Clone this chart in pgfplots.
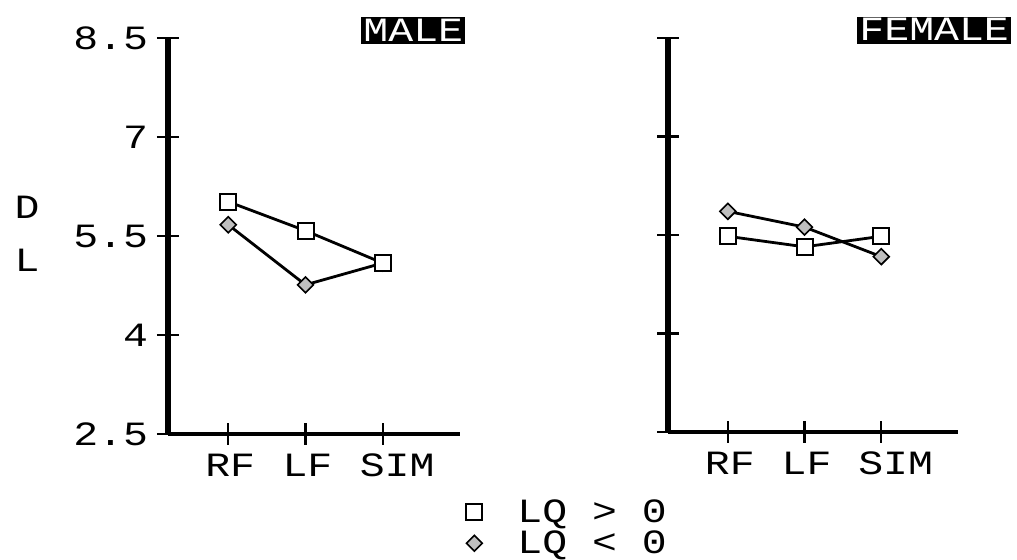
\documentclass[border=0pt]{standalone}
\usepackage{fontspec}
\setmainfont{Liberation Mono}[FakeStretch=1.22]
\setmonofont{Liberation Mono}[FakeStretch=1.22]
\usepackage{pgfplots}
\pgfplotsset{compat=1.18}
\newcommand{\pf}{\fontsize{17}{20}\selectfont}
\pgfplotsset{
  panel/.style={
    scale only axis,
    axis x line=bottom, axis y line=left,
    axis line style={-},
    x axis line style={line width=1.8pt},
    y axis line style={line width=3pt},
    xmin=0.22, xmax=4.0, ymin=2.5, ymax=8.5,
    xtick={1,2,3}, xticklabels={RF,LF,SIM},
    ytick={2.5,4,5.5,7,8.5},
    tick align=center,
    major tick length=11pt,
    tick style={line width=1.2pt, black},
    tick label style={font=\pf},
    xticklabel style={anchor=north west, xshift=-15pt, yshift=-1pt},
    clip=false,
  },
  sq/.style={black, line width=1.4pt, mark=square*, mark size=4pt,
    mark options={line width=1pt, fill=white, solid}},
  dm/.style={black, line width=1.4pt, mark=square*, mark size=2.8pt,
    mark options={line width=0.8pt, fill=gray!50, solid, rotate=45}},
}
\tikzset{ttl/.style={fill=black, text=white, font=\pf, inner xsep=1pt, inner ysep=1.5pt, text height=10.5pt, text depth=0pt}}
\begin{document}
\begin{tikzpicture}
\path[use as bounding box] (0,0) rectangle (508.5pt,-280pt);
% MALE
\begin{axis}[panel,
  at={(84pt,-217pt)}, anchor=south west, width=146pt, height=198pt,
  yticklabels={2.5,4,5.5,7,8.5},
  yticklabel style={xshift=-1pt},
  legend cell align=left,
  legend style={at={(rel axis cs:1.0,-0.155)}, anchor=north west, font=\pf, draw=none, fill=none,
    row sep=3pt,
    nodes={inner sep=1pt, text height=10.5pt, text depth=0pt}},
]
\addlegendimage{only marks, mark=square*, mark size=4pt, mark options={line width=1pt, fill=white}}
\addlegendentry{\hspace{16.5pt}LQ > 0}
\addlegendimage{only marks, mark=square*, mark size=2.8pt, mark options={line width=0.8pt, fill=gray!50, rotate=45}}
\addlegendentry{\hspace{16.5pt}LQ < 0}
\addplot[dm, forget plot] coordinates {(1,5.67) (2,4.76) (3,5.09)};
\addplot[sq, forget plot] coordinates {(1,6.02) (2,5.58) (3,5.09)};
\node[ttl] at (rel axis cs:0.84,1.018) {MALE};
\node[font=\pf] at (rel axis cs:-0.483,0.573) {D};
\node[font=\pf] at (rel axis cs:-0.483,0.439) {L};
\end{axis}
% FEMALE
\begin{axis}[panel,
  at={(334pt,-216pt)}, anchor=south west, width=145pt, height=197pt,
  yticklabels={},
]
\addplot[sq] coordinates {(1,5.48) (2,5.32) (3,5.48)};
\addplot[dm] coordinates {(1,5.86) (2,5.62) (3,5.17)};
\node[ttl, anchor=west] at (rel axis cs:0.652,1.02) {FEMALE};
\end{axis}
\end{tikzpicture}
\end{document}
